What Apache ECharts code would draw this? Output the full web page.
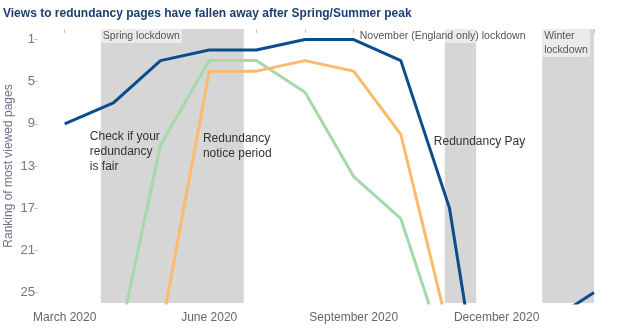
<!DOCTYPE html>
<html>
<head>
<meta charset="utf-8">
<script src="https://cdn.jsdelivr.net/npm/echarts@6/dist/echarts.min.js"></script>
<style>
html,body{margin:0;padding:0;background:#fff;}
#chart{width:622px;height:335px;}
</style>
</head>
<body>
<div id="chart"></div>
<script>
// ---- data ----
var months = ['2020-03-01','2020-04-01','2020-05-01','2020-06-01','2020-07-01','2020-08-01','2020-09-01','2020-10-01','2020-11-01','2020-12-01','2021-01-01','2021-02-01'];
var redundancyPay      = [9, 7, 3, 2, 2, 1, 1, 3, 17, 45, 28, 25];
var checkIfFair        = [null, 32, 11, 3, 3, 6, 14, 18, 32, null, null, null];
var noticePeriod       = [null, null, 29, 4, 4, 3, 4, 10, 29, null, null, null];
var xLabelDates = ['2020-03-01','2020-06-01','2020-09-01','2020-12-01'];
var xLabelTexts = ['March 2020','June 2020','September 2020','December 2020'];
var yTickValues = [1, 5, 9, 13, 17, 21, 25];
var lockdownNames  = ['Spring lockdown', 'November (England only) lockdown', 'Winter\nlockdown'];
var lockdownStarts = ['2020-03-24', '2020-10-29', '2020-12-30'];
var lockdownEnds   = ['2020-06-23', '2020-11-18', '2021-02-01'];
var annotationTexts = ['Check if your\nredundancy\nis fair', 'Redundancy\nnotice period', 'Redundancy Pay'];
var annotationDates = ['2020-03-17', '2020-05-28', '2020-10-22'];
var annotationRanks = [9.5, 9.7, 9.95];

var FONT = "'Liberation Sans', Arial, sans-serif";
function ts(d){ return new Date(d + 'T00:00:00Z').getTime(); }
function pairs(vals){ return months.map(function(m,i){ return [ts(m), vals[i]]; }); }

var labelMap = {};
xLabelDates.forEach(function(d,i){ labelMap[ts(d)] = xLabelTexts[i]; });

var bandLabelOffsets = [[0,0],[-87,0],[0,0]];
var areaData = lockdownNames.map(function(n,i){
  return [{
    xAxis: ts(lockdownStarts[i]),
    name: n,
    label: {
      show: true, position: 'insideTopLeft', distance: 0, offset: bandLabelOffsets[i],
      formatter: n, color: '#555', fontSize: 10.5, fontFamily: FONT, lineHeight: 14,
      backgroundColor: 'rgba(255,255,255,0.5)', padding: [0,2,0,2]
    }
  }, { xAxis: ts(lockdownEnds[i]) }];
});

var chart = echarts.init(document.getElementById('chart'), null, {renderer:'canvas'});
var option = {
  animation: false,
  backgroundColor: '#fff',
  title: {
    text: 'Views to redundancy pages have fallen away after Spring/Summer peak',
    left: -2, top: 3,
    textStyle: { fontSize: 12, fontWeight: 'bold', color: '#1b3f72', fontFamily: FONT }
  },
  grid: { left: 38, right: 28, top: 29, bottom: 32, containLabel: false, outerBoundsMode: 'none' },
  xAxis: {
    type: 'value',
    min: ts('2020-02-13'), max: ts('2021-02-01'),
    axisLine: { show: false },
    splitLine: { show: false },
    axisTick: { show: true, length: 4, lineStyle: { color: '#c8c8c8' }, customValues: months.map(ts) },
    axisLabel: {
      customValues: xLabelDates.map(ts),
      formatter: function(v){ return labelMap[v] || ''; },
      color: '#666', fontSize: 12, fontFamily: FONT, margin: 9, hideOverlap: false
    }
  },
  yAxis: {
    type: 'value', inverse: true, min: 0, max: 26,
    name: 'Ranking of most viewed pages', nameLocation: 'middle', nameGap: 23, nameMoveOverlap: false,
    nameTextStyle: { color: '#766c88', fontSize: 12, fontFamily: FONT },
    axisLine: { show: false },
    splitLine: { show: false },
    axisTick: { show: true, length: 4, lineStyle: { color: '#c8c8c8' }, customValues: yTickValues },
    axisLabel: { customValues: yTickValues, color: '#777', fontSize: 13, fontFamily: FONT, margin: 3 }
  },
  series: [
    {
      name: 'Check if your redundancy is fair', type: 'line', data: pairs(checkIfFair),
      showSymbol: false, symbol: 'none', clip: true, connectNulls: false,
      lineStyle: { color: '#a6d9a9', width: 3 }, z: 3,
      markArea: { silent: true, itemStyle: { color: '#d6d6d6' }, data: areaData, z: 1 }
    },
    {
      name: 'Redundancy notice period', type: 'line', data: pairs(noticePeriod),
      showSymbol: false, symbol: 'none', clip: true,
      lineStyle: { color: '#fdba6b', width: 3 }, z: 4
    },
    {
      name: 'Redundancy Pay', type: 'line', data: pairs(redundancyPay),
      showSymbol: false, symbol: 'none', clip: true,
      lineStyle: { color: '#0b4c8c', width: 3 }, z: 5
    }
  ]
};
chart.setOption(option);

var graphics = annotationTexts.map(function(t,i){
  var p = chart.convertToPixel({gridIndex:0}, [ts(annotationDates[i]), annotationRanks[i]]);
  return {
    type: 'text', x: p[0], y: p[1], z: 10,
    style: { text: t, fill: '#333', font: '12px ' + FONT, lineHeight: 15, align: 'left', verticalAlign: 'top' }
  };
});
chart.setOption({ graphic: graphics });
</script>
</body>
</html>
